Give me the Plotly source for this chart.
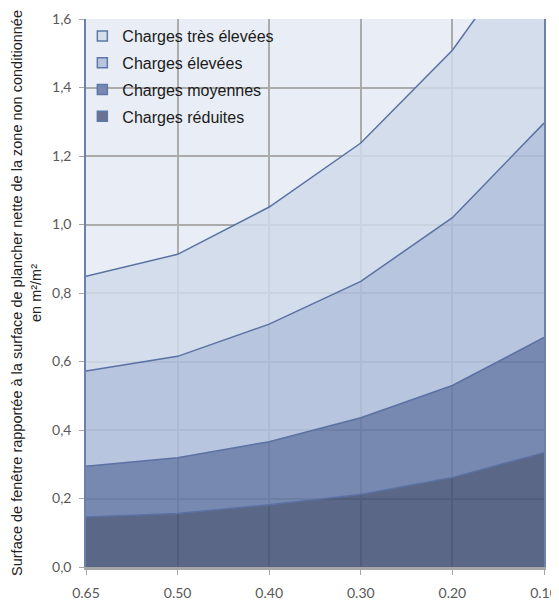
import plotly.graph_objects as go

categories = ["0.65", "0.50", "0.40", "0.30", "0.20", "0.10"]
# Upper boundaries of each stacked zone (m²/m²)
reduites = [0.146, 0.156, 0.182, 0.212, 0.261, 0.334]
moyennes = [0.294, 0.319, 0.366, 0.436, 0.530, 0.670]
elevees = [0.572, 0.615, 0.709, 0.834, 1.020, 1.296]
tres_elevees = [0.849, 0.913, 1.051, 1.238, 1.509, 1.880]

names = ["Charges réduites", "Charges moyennes", "Charges élevées", "Charges très élevées"]
y_ticks = [0.0, 0.2, 0.4, 0.6, 0.8, 1.0, 1.2, 1.4, 1.6]
y_ticktext = ["0,0", "0,2", "0,4", "0,6", "0,8", "1,0", "1,2", "1,4", "1,6"]

fill_colors = ["rgba(65,79,114,0.85)", "rgba(99,119,164,0.85)",
               "rgba(174,189,217,0.85)", "rgba(207,217,233,0.85)"]
legend_colors = ["#6B7290", "#7789B0", "#B9C5DD", "#D6DEEC"]
line_color = "#5A71A2"

x = list(range(len(categories)))
series = [reduites, moyennes, elevees, tres_elevees]

fig = go.Figure()
for i, (s, nm) in enumerate(zip(series, names)):
    fig.add_trace(go.Scatter(
        x=x, y=s, mode="lines", name=nm,
        line=dict(color=line_color, width=1.5),
        fill="tozeroy" if i == 0 else "tonexty",
        fillcolor=fill_colors[i], showlegend=False, hoverinfo="skip"))

# legend entries (top to bottom: très élevées ... réduites)
for i in [3, 2, 1, 0]:
    fig.add_trace(go.Scatter(
        x=[None], y=[None], mode="markers", name=names[i],
        legendgroup=f"g{i}",
        marker=dict(symbol="square", size=10, color=legend_colors[i],
                    line=dict(color="#5F76A8", width=1.5)),
        showlegend=True))

# page body has an 8px margin: figure is sized to fill the rest of the 559x601 window
fig.update_layout(
    width=551, height=593,
    margin=dict(l=78, r=15, t=11, b=34, autoexpand=False),
    paper_bgcolor="white",
    plot_bgcolor="#E9EEF6",
    font=dict(family="Liberation Sans, Arial, sans-serif", color="#222"),
    legend=dict(
        x=-0.008, y=1.0, xanchor="left", yanchor="top",
        bgcolor="rgba(0,0,0,0)", borderwidth=0,
        font=dict(size=16, color="#1a1a1a", family="Liberation Sans, Arial, sans-serif"),
        traceorder="grouped", tracegroupgap=3),
    xaxis=dict(
        range=[0, len(categories) - 1],
        tickvals=x, ticktext=categories,
        showgrid=True, gridcolor="#ABABAB", gridwidth=1.5,
        showline=True, linecolor="#A6A6A6", linewidth=2.5,
        ticks="outside", ticklen=5, tickcolor="#A6A6A6", tickwidth=1,
        ticklabelstandoff=6,
        tickfont=dict(family="Lato, sans-serif", size=14, color="#595959"),
        zeroline=False, fixedrange=True),
    yaxis=dict(
        range=[0, 1.6],
        tickvals=y_ticks, ticktext=y_ticktext,
        showgrid=True, gridcolor="#ABABAB", gridwidth=1.5,
        showline=True, linecolor="#6C80AA", linewidth=1.5, mirror=True,
        ticks="outside", ticklen=5, tickcolor="#A6A6A6", tickwidth=1,
        ticklabelstandoff=5,
        tickfont=dict(family="Lato, sans-serif", size=14, color="#595959"),
        zeroline=False, fixedrange=True,
        title=dict(
            text="Surface de fenêtre rapportée à la surface de plancher nette de la zone non conditionnée<br>en m²/m²",
            font=dict(size=14.5, color="#222", family="Liberation Sans, Arial, sans-serif"),
            standoff=7)),
)

fig.write_html("out.html")
